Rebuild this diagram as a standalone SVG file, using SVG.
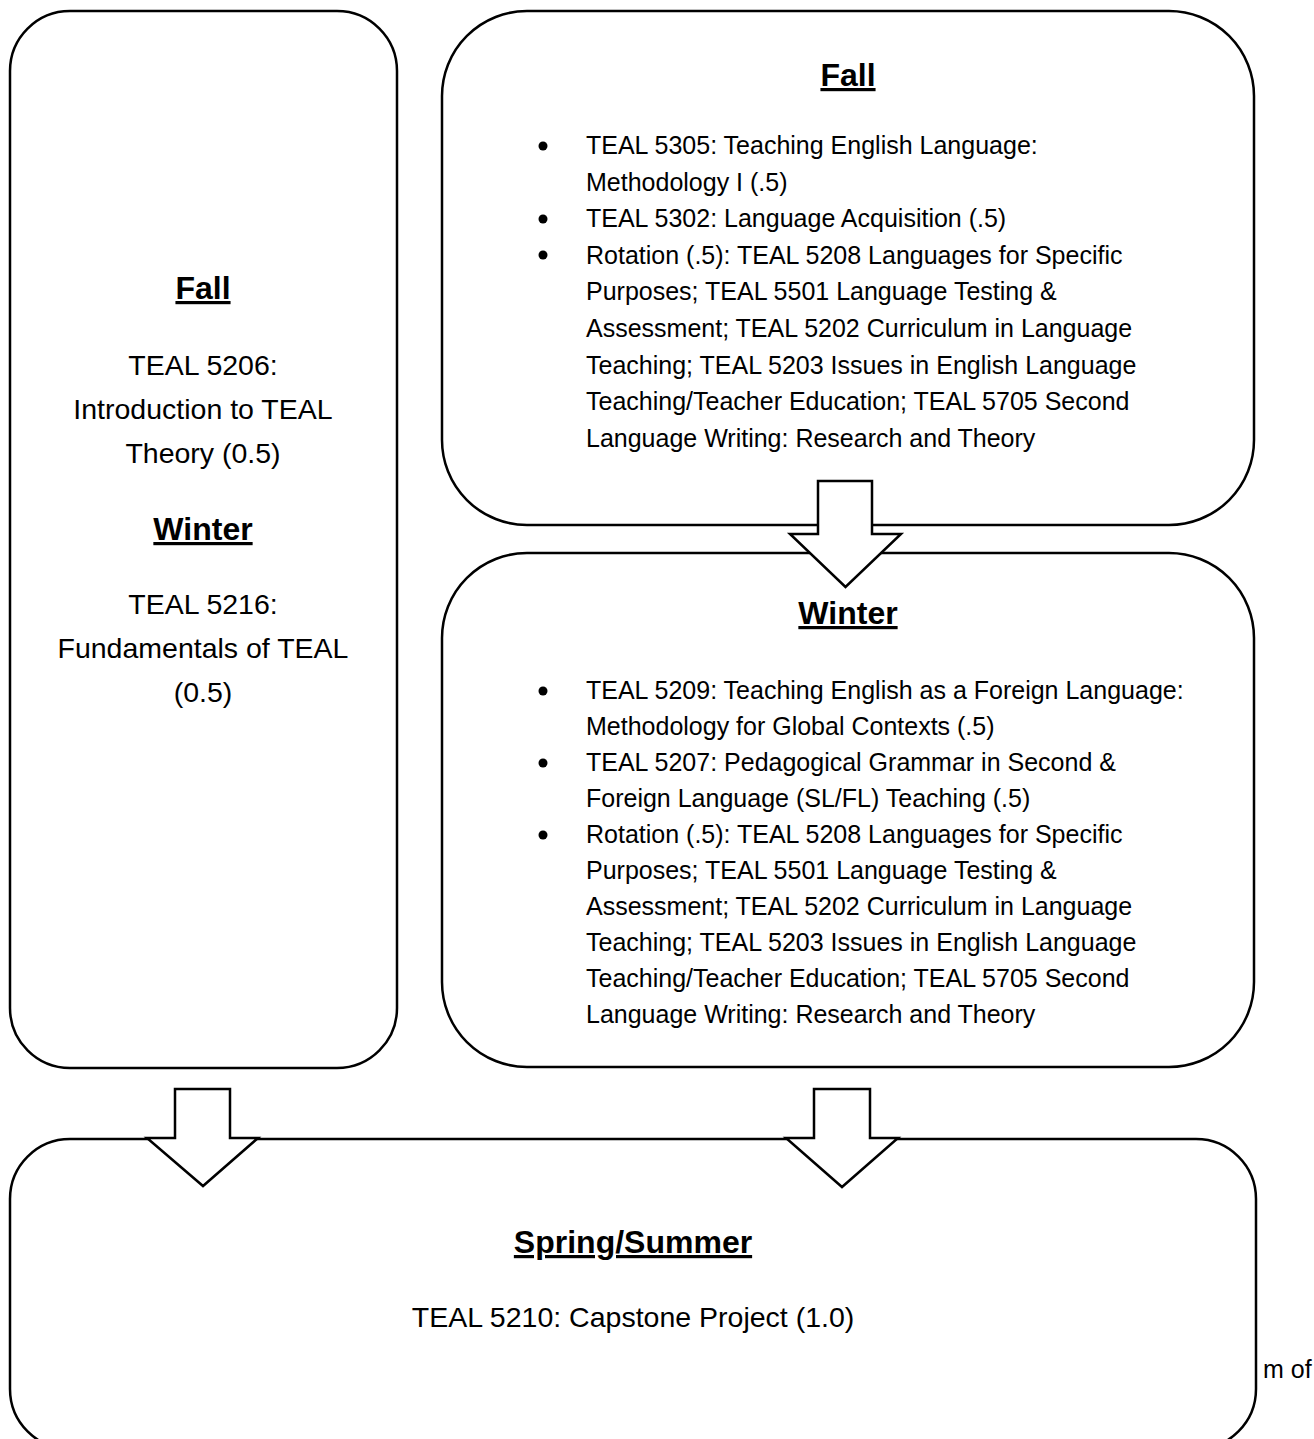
<svg xmlns="http://www.w3.org/2000/svg" width="1314" height="1439" viewBox="0 0 1314 1439">
<style>
.box{fill:#fff;stroke:#000;stroke-width:2.5}
.arrow{fill:#fff;stroke:#000;stroke-width:2.5;stroke-linejoin:miter}
text{font-family:"Liberation Sans",Arial,sans-serif;fill:#000}
.h{font-weight:bold;font-size:32px;text-anchor:middle;text-decoration:underline}
.c{font-size:28.5px;text-anchor:middle}
.b{font-size:25px}
.bul{fill:#000}
</style>
<rect width="1314" height="1439" fill="#fff"/>
<g id="node-left">
<rect class="box" x="10" y="11" width="387" height="1057" rx="60" ry="60"/>
<text class="h" x="203" y="299">Fall</text>
<text class="c" x="203" y="375">TEAL 5206:</text>
<text class="c" x="203" y="419">Introduction to TEAL</text>
<text class="c" x="203" y="463">Theory (0.5)</text>
<text class="h" x="203" y="540">Winter</text>
<text class="c" x="203" y="614">TEAL 5216:</text>
<text class="c" x="203" y="658">Fundamentals of TEAL</text>
<text class="c" x="203" y="702">(0.5)</text>
</g>
<g id="node-fall">
<rect class="box" x="442" y="11" width="812" height="514" rx="85" ry="85"/>
<text class="h" x="848" y="86">Fall</text>
<circle class="bul" cx="543" cy="146" r="4.5"/>
<circle class="bul" cx="543" cy="219" r="4.5"/>
<circle class="bul" cx="543" cy="255" r="4.5"/>
<text class="b" x="586" y="154">TEAL 5305: Teaching English Language:</text>
<text class="b" x="586" y="190.6">Methodology I (.5)</text>
<text class="b" x="586" y="227.2">TEAL 5302: Language Acquisition (.5)</text>
<text class="b" x="586" y="263.8">Rotation (.5): TEAL 5208 Languages for Specific</text>
<text class="b" x="586" y="300.4">Purposes; TEAL 5501 Language Testing &amp;</text>
<text class="b" x="586" y="337">Assessment; TEAL 5202 Curriculum in Language</text>
<text class="b" x="586" y="373.6">Teaching; TEAL 5203 Issues in English Language</text>
<text class="b" x="586" y="410.2">Teaching/Teacher Education; TEAL 5705 Second</text>
<text class="b" x="586" y="446.8">Language Writing: Research and Theory</text>
</g>
<g id="node-winter">
<rect class="box" x="442" y="553" width="812" height="514" rx="85" ry="85"/>
<text class="h" x="848" y="624">Winter</text>
<circle class="bul" cx="543" cy="691" r="4.5"/>
<circle class="bul" cx="543" cy="763" r="4.5"/>
<circle class="bul" cx="543" cy="835" r="4.5"/>
<text class="b" x="586" y="699">TEAL 5209: Teaching English as a Foreign Language:</text>
<text class="b" x="586" y="735">Methodology for Global Contexts (.5)</text>
<text class="b" x="586" y="771">TEAL 5207: Pedagogical Grammar in Second &amp;</text>
<text class="b" x="586" y="807">Foreign Language (SL/FL) Teaching (.5)</text>
<text class="b" x="586" y="843">Rotation (.5): TEAL 5208 Languages for Specific</text>
<text class="b" x="586" y="879">Purposes; TEAL 5501 Language Testing &amp;</text>
<text class="b" x="586" y="915">Assessment; TEAL 5202 Curriculum in Language</text>
<text class="b" x="586" y="951">Teaching; TEAL 5203 Issues in English Language</text>
<text class="b" x="586" y="987">Teaching/Teacher Education; TEAL 5705 Second</text>
<text class="b" x="586" y="1023">Language Writing: Research and Theory</text>
</g>
<g id="node-spring">
<rect class="box" x="10" y="1139" width="1246" height="310" rx="60" ry="60"/>
<text class="h" x="633" y="1253">Spring/Summer</text>
<text class="c" x="633" y="1327">TEAL 5210: Capstone Project (1.0)</text>
</g>
<text class="b" x="1263" y="1378">m of</text>
<g id="connectors">
<polygon class="arrow" points="818,481 872,481 872,534 901,534 845.5,587 790,534 818,534"/>
<polygon class="arrow" points="175,1089 230,1089 230,1138 258,1138 203,1186 147,1138 175,1138"/>
<polygon class="arrow" points="814,1089 870,1089 870,1138 898,1138 842,1187 786,1138 814,1138"/>
</g>
</svg>
